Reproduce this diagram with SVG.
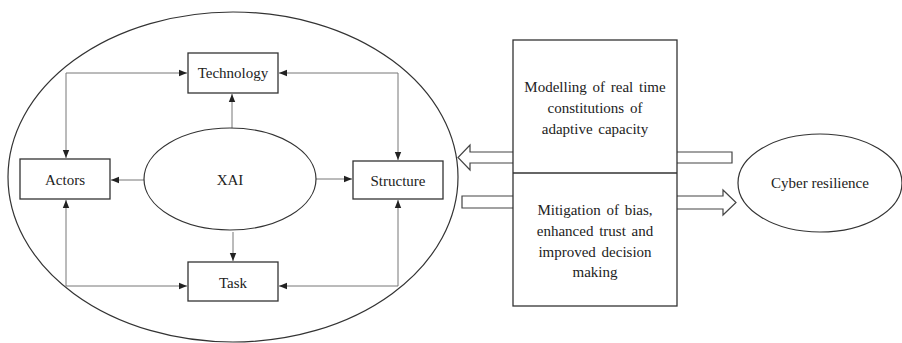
<svg xmlns="http://www.w3.org/2000/svg" width="902" height="343" viewBox="0 0 902 343">
<style>
.box{fill:#fff;stroke:#333;stroke-width:1.3}
.ell{fill:#fff;stroke:#333;stroke-width:1.2}
.con{fill:none;stroke:#777;stroke-width:1}
.fat{fill:#fff;stroke:#444;stroke-width:1.2}
text{font-family:'Liberation Serif','DejaVu Serif',serif;font-size:15px;fill:#222;text-anchor:middle}
</style>
<defs>
<marker id="ah" viewBox="0 0 8 8" refX="8" refY="4" markerWidth="8" markerHeight="8" markerUnits="userSpaceOnUse" orient="auto-start-reverse">
<path d="M0,0.8 L8,4 L0,7.2 Z" fill="#222"/>
</marker>
</defs>
<rect width="902" height="343" fill="#fff"/>
<g id="outer"><ellipse class="ell" cx="233" cy="177" rx="225" ry="165"/></g>
<g id="connectors">
<polyline class="con" points="66,158 66,73 187,73" marker-start="url(#ah)" marker-end="url(#ah)"/>
<polyline class="con" points="279,73 398,73 398,160" marker-start="url(#ah)" marker-end="url(#ah)"/>
<polyline class="con" points="66,200 66,286 187,286" marker-start="url(#ah)" marker-end="url(#ah)"/>
<polyline class="con" points="398,200 398,286 279,286" marker-start="url(#ah)" marker-end="url(#ah)"/>
<line class="con" x1="232" y1="128" x2="232" y2="94" marker-end="url(#ah)"/>
<line class="con" x1="144" y1="180" x2="111" y2="180" marker-end="url(#ah)"/>
<line class="con" x1="316" y1="179" x2="352" y2="179" marker-end="url(#ah)"/>
<line class="con" x1="233" y1="232" x2="233" y2="261" marker-end="url(#ah)"/>
<path class="fat" d="M513,152 L470,152 L470,145 L458,157.5 L470,170 L470,163 L513,163"/>
<path class="fat" d="M677,152 L732,152 L732,163 L677,163"/>
<path class="fat" d="M513,196 L462,196 L462,208 L513,208"/>
<path class="fat" d="M677,196 L723,196 L723,190 L736,202.5 L723,215 L723,209 L677,209"/>
</g>
<g id="technology"><rect class="box" x="188" y="53" width="90" height="40"/><text x="233" y="78">Technology</text></g>
<g id="actors"><rect class="box" x="20" y="159" width="90" height="40"/><text x="65" y="185">Actors</text></g>
<g id="structure"><rect class="box" x="353" y="161" width="90" height="38"/><text x="398" y="186">Structure</text></g>
<g id="task"><rect class="box" x="188" y="262" width="90" height="39"/><text x="233" y="288">Task</text></g>
<g id="xai"><ellipse class="ell" cx="230" cy="179" rx="86" ry="51"/><text x="230" y="185">XAI</text></g>
<g id="middle">
<rect class="box" x="513" y="40" width="164" height="266"/>
<line x1="513" y1="173" x2="677" y2="173" stroke="#333" stroke-width="1.3"/>
<text x="595" y="92" word-spacing="2">Modelling of real time</text>
<text x="595" y="113" word-spacing="2">constitutions of</text>
<text x="595" y="134" word-spacing="2">adaptive capacity</text>
<text x="595" y="215" word-spacing="2">Mitigation of bias,</text>
<text x="595" y="236" word-spacing="2">enhanced trust and</text>
<text x="595" y="257" word-spacing="2">improved decision</text>
<text x="595" y="277">making</text>
</g>
<g id="cyber"><ellipse class="ell" cx="820" cy="183" rx="82" ry="49"/><text x="820" y="188">Cyber resilience</text></g>
</svg>
